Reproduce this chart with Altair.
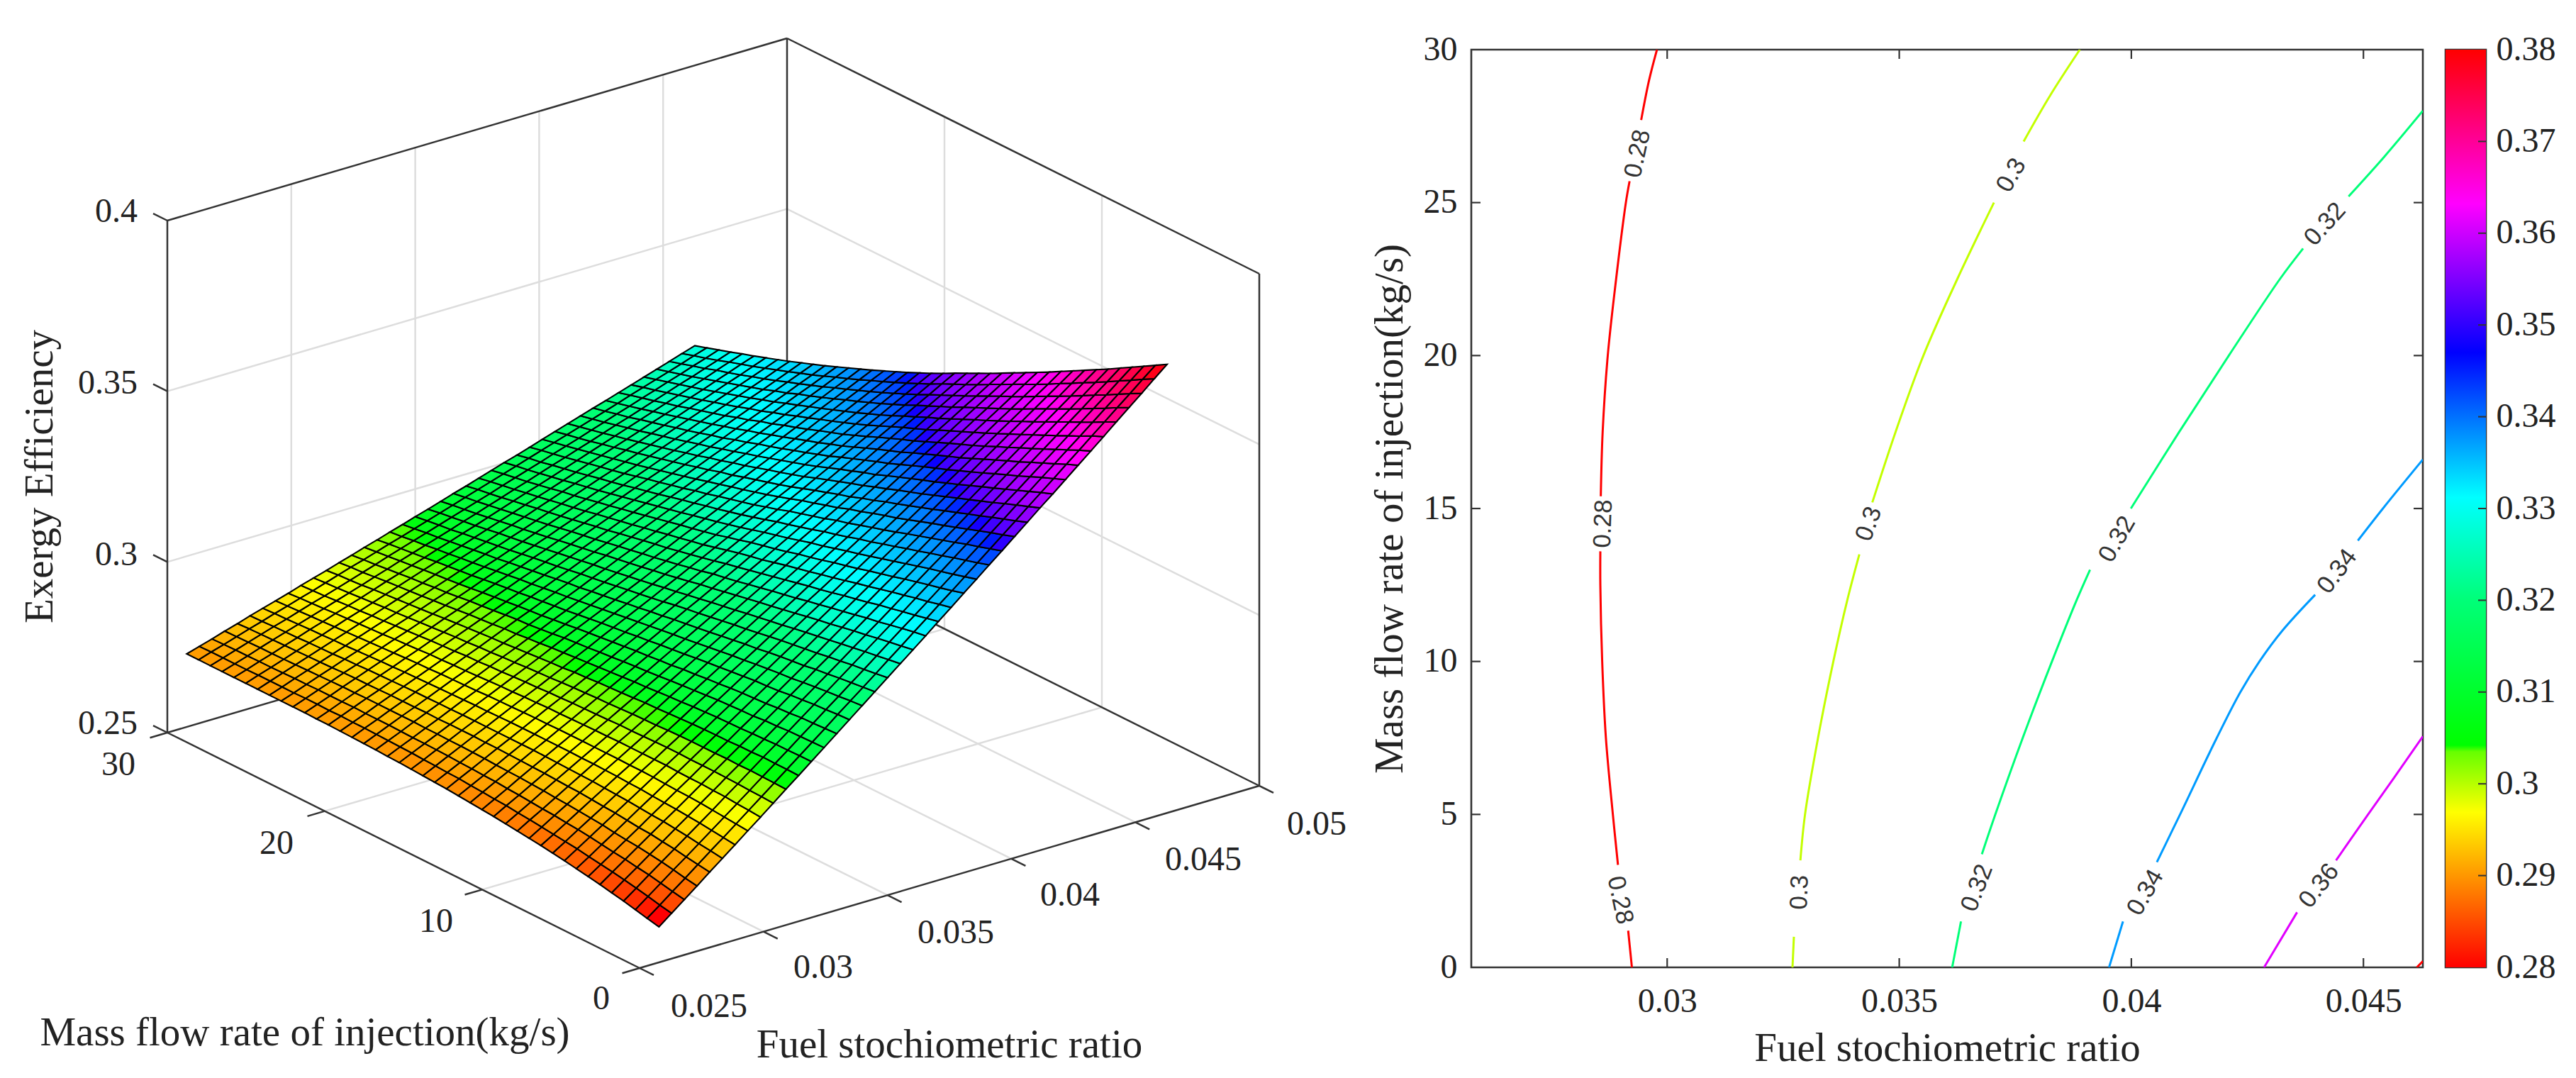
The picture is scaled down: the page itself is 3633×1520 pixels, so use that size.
import altair as alt

# --- axes ---
x3d_ticks = [0.025, 0.03, 0.035, 0.04, 0.045, 0.05]
x3d_labels = ["0.025", "0.03", "0.035", "0.04", "0.045", "0.05"]
y3d_ticks = [0, 10, 20, 30]
z3d_ticks = [0.25, 0.3, 0.35, 0.4]
surface_x_min, surface_x_max = 0.02578, 0.04628
surface_y_max = 30.0

# surface heights x 1e-4: one list per mass-flow row (y = 0 ... 30), left to right in ratio.
# Estimates: anchored on the contour crossings and surface corners in the picture, smooth between them.
surface_rows = [
    [2604,2633,2662,2691,2721,2750,2779,2809,2838,2868,2898,2927,2957,2987,3017,3047,3077,3107,3137,3167,3197,3227,3258,3288,3319,3349,3380,3410,3441,3472,3503,3533,3564,3595,3626,3657,3689,3720,3751,3783,3814],
    [2612,2640,2669,2697,2726,2755,2783,2812,2841,2870,2899,2928,2957,2986,3015,3045,3074,3103,3132,3162,3191,3221,3250,3280,3309,3339,3369,3399,3429,3459,3490,3520,3550,3581,3611,3642,3672,3703,3733,3764,3794],
    [2620,2648,2676,2704,2731,2759,2787,2815,2843,2871,2900,2928,2956,2985,3013,3042,3070,3099,3127,3156,3185,3214,3242,3271,3300,3329,3359,3388,3418,3447,3477,3506,3536,3565,3595,3624,3654,3684,3714,3744,3774],
    [2628,2655,2683,2710,2737,2764,2791,2818,2846,2873,2901,2929,2956,2984,3012,3040,3067,3095,3123,3151,3179,3207,3235,3264,3292,3320,3349,3378,3406,3435,3464,3492,3521,3550,3579,3608,3637,3666,3695,3725,3754],
    [2635,2662,2688,2715,2741,2768,2794,2821,2847,2874,2900,2927,2954,2981,3008,3036,3063,3090,3117,3145,3172,3199,3227,3255,3283,3311,3338,3366,3394,3422,3450,3478,3506,3535,3563,3591,3620,3648,3677,3705,3734],
    [2642,2668,2694,2720,2746,2772,2797,2823,2849,2875,2901,2927,2953,2980,3006,3033,3059,3086,3112,3139,3166,3193,3220,3247,3274,3301,3328,3355,3382,3410,3437,3464,3492,3519,3547,3575,3603,3630,3658,3686,3714],
    [2648,2673,2698,2723,2748,2774,2799,2824,2849,2875,2900,2925,2951,2976,3002,3028,3054,3080,3106,3133,3159,3185,3211,3238,3264,3291,3317,3344,3370,3397,3424,3451,3478,3505,3532,3559,3586,3613,3640,3668,3695],
    [2654,2678,2703,2727,2752,2777,2801,2826,2850,2875,2900,2925,2950,2975,3000,3025,3051,3076,3101,3127,3152,3178,3203,3229,3255,3281,3307,3333,3359,3385,3411,3437,3463,3490,3516,3543,3569,3596,3622,3649,3676],
    [2660,2684,2708,2732,2756,2780,2804,2828,2852,2876,2900,2924,2949,2973,2998,3023,3047,3072,3096,3121,3146,3171,3196,3221,3246,3271,3296,3322,3347,3372,3398,3423,3449,3475,3501,3527,3553,3579,3605,3631,3657],
    [2665,2688,2712,2735,2758,2782,2805,2829,2852,2876,2899,2923,2947,2971,2995,3019,3043,3067,3091,3115,3139,3163,3187,3212,3236,3261,3286,3310,3335,3360,3385,3410,3435,3460,3485,3511,3536,3561,3587,3612,3638],
    [2670,2692,2715,2738,2761,2784,2807,2829,2852,2875,2898,2921,2945,2968,2991,3015,3038,3061,3085,3108,3132,3156,3179,3203,3227,3251,3275,3299,3323,3348,3372,3396,3421,3445,3470,3495,3520,3544,3569,3594,3619],
    [2674,2696,2719,2741,2764,2786,2808,2830,2852,2874,2896,2919,2942,2965,2988,3011,3034,3057,3079,3102,3125,3148,3172,3195,3219,3242,3266,3289,3313,3336,3360,3384,3408,3432,3456,3480,3504,3528,3552,3577,3601],
    [2678,2700,2721,2743,2765,2787,2809,2830,2852,2873,2895,2917,2940,2962,2984,3007,3029,3051,3073,3096,3118,3141,3164,3186,3209,3232,3255,3278,3302,3325,3348,3371,3395,3418,3442,3465,3489,3512,3536,3560,3583],
    [2682,2703,2724,2746,2767,2788,2809,2830,2851,2873,2894,2916,2937,2959,2981,3003,3024,3046,3068,3090,3112,3134,3156,3178,3200,3222,3245,3267,3290,3312,3335,3358,3381,3404,3427,3450,3473,3496,3519,3542,3565],
    [2686,2707,2727,2748,2769,2789,2810,2830,2851,2871,2892,2913,2934,2955,2976,2998,3019,3040,3062,3083,3105,3126,3148,3170,3192,3214,3236,3258,3280,3301,3323,3345,3367,3390,3412,3435,3457,3480,3502,3525,3547],
    [2689,2709,2729,2750,2770,2790,2810,2830,2850,2870,2890,2911,2932,2952,2973,2994,3014,3035,3056,3077,3098,3119,3140,3161,3182,3204,3225,3246,3267,3288,3310,3331,3353,3375,3397,3419,3441,3463,3485,3507,3529],
    [2692,2712,2732,2751,2771,2791,2810,2830,2849,2869,2889,2909,2929,2949,2969,2990,3010,3030,3050,3071,3091,3111,3132,3152,3173,3194,3215,3236,3257,3278,3299,3320,3341,3362,3384,3405,3427,3448,3469,3490,3512],
    [2695,2714,2733,2752,2772,2791,2810,2829,2848,2868,2887,2907,2926,2946,2966,2985,3005,3025,3045,3064,3084,3104,3124,3145,3165,3185,3205,3226,3246,3266,3287,3307,3328,3349,3370,3391,3411,3432,3453,3474,3495],
    [2698,2717,2735,2754,2773,2791,2810,2829,2848,2866,2885,2904,2923,2942,2962,2981,3000,3019,3039,3058,3078,3098,3117,3137,3157,3176,3196,3216,3236,3255,3275,3295,3315,3335,3356,3376,3396,3417,3437,3458,3478],
    [2700,2718,2736,2755,2773,2791,2810,2828,2846,2865,2883,2902,2920,2939,2958,2976,2995,3014,3032,3051,3070,3089,3108,3128,3147,3166,3185,3204,3224,3243,3263,3282,3302,3321,3341,3361,3380,3400,3420,3440,3460],
    [2702,2720,2738,2756,2774,2791,2809,2827,2845,2862,2880,2898,2917,2935,2954,2972,2990,3008,3026,3045,3063,3082,3100,3119,3138,3156,3175,3194,3213,3231,3250,3269,3288,3307,3327,3346,3365,3385,3404,3424,3443],
    [2704,2721,2739,2756,2774,2791,2808,2826,2843,2861,2878,2896,2914,2932,2950,2968,2985,3003,3020,3038,3056,3074,3092,3110,3128,3147,3165,3183,3202,3220,3239,3257,3276,3295,3313,3332,3351,3370,3389,3408,3427],
    [2706,2723,2740,2757,2774,2791,2808,2825,2842,2859,2876,2893,2911,2929,2946,2963,2980,2997,3015,3032,3050,3067,3085,3103,3120,3138,3156,3174,3192,3210,3228,3246,3264,3282,3301,3319,3337,3356,3374,3393,3411],
    [2707,2724,2740,2757,2773,2790,2807,2823,2840,2856,2873,2890,2907,2924,2941,2958,2975,2992,3009,3026,3043,3060,3077,3095,3112,3130,3147,3165,3182,3200,3218,3235,3253,3271,3289,3306,3324,3342,3360,3378,3396],
    [2709,2725,2741,2758,2774,2790,2806,2822,2838,2855,2871,2887,2904,2920,2937,2953,2970,2987,3003,3020,3037,3054,3071,3088,3105,3122,3139,3156,3173,3190,3207,3224,3241,3259,3276,3294,3311,3329,3346,3364,3381],
    [2710,2726,2742,2758,2773,2789,2805,2821,2836,2852,2868,2884,2900,2916,2932,2949,2965,2981,2998,3014,3031,3047,3064,3080,3097,3113,3130,3146,3163,3179,3196,3213,3230,3247,3264,3281,3298,3315,3332,3349,3366],
    [2711,2727,2742,2758,2773,2789,2804,2820,2835,2851,2866,2882,2898,2914,2929,2945,2961,2977,2993,3009,3025,3041,3057,3073,3089,3105,3122,3138,3154,3171,3187,3203,3220,3236,3253,3269,3286,3302,3319,3335,3352],
    [2712,2727,2742,2758,2773,2788,2803,2818,2833,2848,2863,2879,2894,2910,2925,2941,2956,2972,2987,3003,3018,3034,3050,3065,3081,3097,3113,3128,3144,3160,3176,3192,3208,3224,3240,3256,3273,3289,3305,3322,3338],
    [2713,2728,2743,2758,2772,2787,2802,2817,2832,2846,2861,2876,2891,2906,2921,2936,2951,2966,2981,2997,3012,3027,3042,3058,3073,3089,3104,3120,3135,3151,3167,3182,3198,3214,3230,3245,3261,3277,3292,3308,3324],
    [2713,2727,2742,2757,2771,2786,2800,2815,2829,2844,2858,2873,2888,2902,2917,2932,2947,2961,2976,2991,3006,3021,3036,3051,3066,3081,3096,3111,3126,3141,3156,3171,3186,3202,3217,3232,3248,3263,3279,3294,3310],
    [2714,2728,2742,2757,2771,2785,2799,2813,2827,2841,2855,2870,2884,2899,2913,2928,2942,2956,2971,2985,3000,3015,3029,3044,3058,3073,3088,3103,3117,3132,3147,3162,3177,3192,3207,3222,3237,3252,3267,3282,3297],
    [2714,2728,2742,2756,2770,2783,2797,2811,2825,2838,2852,2866,2880,2894,2908,2923,2937,2951,2965,2979,2993,3008,3022,3036,3051,3065,3079,3094,3108,3123,3137,3152,3166,3181,3195,3210,3225,3239,3254,3269,3284],
    [2714,2727,2741,2755,2768,2782,2795,2809,2822,2836,2849,2863,2877,2890,2904,2918,2932,2945,2959,2973,2987,3001,3015,3029,3043,3057,3071,3085,3099,3114,3128,3142,3156,3171,3185,3199,3214,3228,3242,3257,3271],
    [2714,2727,2741,2754,2767,2780,2793,2807,2820,2833,2846,2860,2873,2887,2900,2914,2927,2941,2954,2968,2981,2995,3009,3023,3036,3050,3064,3077,3091,3105,3119,3133,3147,3161,3175,3189,3203,3217,3231,3245,3259],
    [2714,2727,2740,2753,2766,2779,2792,2805,2818,2831,2844,2857,2870,2883,2897,2910,2923,2936,2949,2963,2976,2989,3003,3016,3030,3043,3056,3070,3083,3097,3110,3124,3137,3151,3165,3178,3192,3206,3219,3233,3247],
    [2714,2727,2739,2752,2765,2778,2790,2803,2816,2828,2841,2854,2867,2880,2893,2906,2918,2931,2944,2957,2970,2983,2996,3009,3022,3035,3048,3062,3075,3088,3101,3114,3128,3141,3154,3168,3181,3195,3208,3222,3235],
    [2714,2726,2739,2751,2764,2776,2789,2801,2814,2826,2838,2851,2864,2876,2889,2901,2914,2926,2939,2951,2964,2977,2990,3003,3015,3028,3041,3054,3067,3080,3093,3106,3119,3132,3145,3158,3171,3184,3198,3211,3224],
    [2714,2726,2738,2751,2763,2775,2787,2799,2811,2823,2835,2847,2860,2872,2885,2897,2909,2921,2933,2946,2958,2971,2983,2996,3008,3021,3034,3046,3059,3071,3084,3097,3109,3122,3135,3148,3161,3173,3186,3199,3212],
    [2714,2726,2738,2750,2762,2774,2785,2797,2809,2820,2832,2844,2856,2868,2881,2893,2905,2917,2929,2941,2953,2965,2977,2990,3002,3014,3026,3039,3051,3063,3076,3088,3101,3113,3126,3138,3151,3163,3176,3188,3201],
    [2714,2726,2737,2749,2761,2772,2784,2795,2807,2818,2830,2842,2854,2865,2877,2889,2900,2912,2924,2936,2948,2960,2972,2984,2996,3008,3020,3032,3044,3056,3068,3080,3092,3104,3117,3129,3141,3153,3165,3178,3190],
    [2714,2725,2736,2748,2759,2771,2782,2793,2804,2816,2827,2838,2850,2861,2873,2884,2896,2907,2919,2930,2942,2954,2965,2977,2989,3001,3012,3024,3036,3048,3060,3072,3084,3095,3107,3119,3131,3143,3155,3167,3179],
]

# contour segments: (ratio, mass flow)
contours = {
    0.28: [
        [(0.02924, 0), (0.02916, 1.2)],
        [(0.02894, 3.35), (0.02883, 5), (0.02868, 7.5), (0.0286, 10), (0.02856, 12.5), (0.02856, 13.6)],
        [(0.02857, 15.4), (0.02861, 17.5), (0.02872, 20), (0.0289, 22.5), (0.02911, 25), (0.02919, 25.7)],
        [(0.02944, 27.7), (0.02961, 29), (0.02978, 30)],
    ],
    0.30: [
        [(0.0327, 0), (0.03273, 1)],
        [(0.03287, 3.5), (0.03297, 5), (0.03325, 7.5), (0.03358, 10), (0.03388, 12), (0.03414, 13.5)],
        [(0.03442, 15.2), (0.03492, 17.5), (0.03552, 20), (0.03625, 22.5), (0.03704, 25)],
        [(0.03768, 27), (0.03825, 28.5), (0.03889, 30)],
    ],
    0.32: [
        [(0.03614, 0), (0.03633, 1.5)],
        [(0.03678, 3.7), (0.03707, 5), (0.03766, 7.5), (0.03829, 10), (0.03882, 12), (0.03911, 13)],
        [(0.03999, 15), (0.04103, 17.5), (0.0421, 20), (0.0432, 22.5), (0.0437, 23.5)],
        [(0.04468, 25.2), (0.04545, 26.5), (0.04628, 28)],
    ],
    0.34: [
        [(0.03952, 0), (0.03982, 1.5)],
        [(0.04055, 3.44), (0.04105, 5), (0.04184, 7.5), (0.04235, 9), (0.04276, 10), (0.04325, 11), (0.04396, 12.18)],
        [(0.04488, 13.95), (0.04542, 15), (0.04628, 16.6)],
    ],
    0.36: [
        [(0.04286, 0), (0.04357, 1.8)],
        [(0.04441, 3.5), (0.0451, 5), (0.04566, 6.2), (0.04628, 7.55)],
    ],
    0.38: [[(0.04615, 0), (0.04628, 0.2)]],
}
contour_labels = [
    ("0.28", 0.02936, 26.6, 282), ("0.28", 0.02862, 14.5, 272), ("0.28", 0.02899, 2.2, 78),
    ("0.3", 0.03741, 25.9, 300), ("0.3", 0.03434, 14.5, 290), ("0.3", 0.03285, 2.45, 272),
    ("0.32", 0.04417, 24.3, 312), ("0.32", 0.03969, 14.0, 300), ("0.32", 0.03667, 2.6, 291),
    ("0.34", 0.04443, 12.95, 307), ("0.34", 0.0403, 2.45, 300),
    ("0.36", 0.04404, 2.67, 308),
]
right_x_ticks = [0.03, 0.035, 0.04, 0.045]
right_y_ticks = [0, 5, 10, 15, 20, 25, 30]
bar_ticks = [0.28, 0.29, 0.30, 0.31, 0.32, 0.33, 0.34, 0.35, 0.36, 0.37, 0.38]

# colormaps: the surface uses the colorbar's colours stretched over its own height range
bar_domain = [0.28, 0.2969, 0.3035, 0.3042, 0.32, 0.3312, 0.347, 0.3632, 0.38]
bar_range = ["#ff0000", "#ffff00", "#66ff00", "#00ff00", "#00ff78", "#00ffff", "#0000ff", "#ff00ff", "#ff0000"]
surface_low, surface_high = 0.2625, 0.38
surface_domain = [surface_low + (d - 0.28) / 0.10 * (surface_high - surface_low) for d in bar_domain]
surface_range = bar_range

SERIF = "Liberation Serif"
INK = "#222222"
EDGE = "#333333"
TICK_SIZE = 48
TITLE_SIZE = 57


# 3D view: orthographic camera, page pixels of the box corners
def cam(x, y, z):
    fx, fy, fz = (x - 0.025) / 0.025, y / 30.0, (z - 0.25) / 0.15
    return [902 + fx * 874 - fy * 666 - 8, 1362 - fx * 257 - fy * 332 - fz * 722 - 67]


def page(px, py):
    return {"lon": px - 8, "lat": py - 67}


def poly_feature(pts, **props):
    return {"type": "Feature", "geometry": {"type": "Polygon", "coordinates": [pts + [pts[0]]]}, "properties": props}


def line_feature(a, b):
    return {"type": "Feature", "geometry": {"type": "LineString", "coordinates": [a, b]}, "properties": {}}


identity = dict(type="identity", scale=1, translate=[0, 0], clipExtent=[[-200, -200], [3000, 3000]])

nrow, ncol = len(surface_rows), len(surface_rows[0])
node_x = [surface_x_min + (surface_x_max - surface_x_min) * i / (ncol - 1) for i in range(ncol)]
node_y = [surface_y_max * j / (nrow - 1) for j in range(nrow)]
quads = []
for j in range(nrow - 1):
    for i in range(ncol - 1):
        corners = [(i, j), (i + 1, j), (i + 1, j + 1), (i, j + 1)]
        zs = [surface_rows[b][a] / 1e4 for a, b in corners]
        pts = [cam(node_x[a], node_y[b], surface_rows[b][a] / 1e4) for a, b in corners]
        quads.append(poly_feature(pts, z=sum(zs) / 4))

X0, X1, Y1, Z0, Z1 = 0.025, 0.05, 30, 0.25, 0.4
box_edges = [
    ((X0, Y1, Z1), (X1, Y1, Z1)), ((X1, Y1, Z1), (X1, 0, Z1)),
    ((X0, Y1, Z0), (X0, Y1, Z1)), ((X1, Y1, Z0), (X1, Y1, Z1)), ((X1, 0, Z0), (X1, 0, Z1)),
    ((X0, Y1, Z0), (X0, 0, Z0)), ((X0, 0, Z0), (X1, 0, Z0)),
    ((X0, Y1, Z0), (X1, Y1, Z0)), ((X1, Y1, Z0), (X1, 0, Z0)),
]
box = [line_feature(cam(*a), cam(*b)) for a, b in box_edges]
ticks3d = []
for x in x3d_ticks:
    ticks3d.append(line_feature(cam(x, 0, Z0), cam(x, -0.9, Z0)))
for y in y3d_ticks:
    ticks3d.append(line_feature(cam(X0, y, Z0), cam(X0 - 0.0007, y, Z0)))
for z in z3d_ticks:
    ticks3d.append(line_feature(cam(X0, Y1, z), cam(X0, Y1 + 0.9, z)))
grid3d = []
for x in x3d_ticks[1:-1]:
    grid3d.append(line_feature(cam(x, Y1, Z0), cam(x, Y1, Z1)))
    grid3d.append(line_feature(cam(x, 0, Z0), cam(x, Y1, Z0)))
for y in y3d_ticks[1:-1]:
    grid3d.append(line_feature(cam(X1, y, Z0), cam(X1, y, Z1)))
    grid3d.append(line_feature(cam(X0, y, Z0), cam(X1, y, Z0)))
for z in z3d_ticks[1:-1]:
    grid3d.append(line_feature(cam(X0, Y1, z), cam(X1, Y1, z)))
    grid3d.append(line_feature(cam(X1, Y1, z), cam(X1, 0, z)))

text3d = [
    dict(t="0.4", a=0, align="right", **page(194, 296)),
    dict(t="0.35", a=0, align="right", **page(194, 538)),
    dict(t="0.3", a=0, align="right", **page(194, 780)),
    dict(t="0.25", a=0, align="right", **page(194, 1018)),
    dict(t="30", a=0, align="center", **page(167, 1076)),
    dict(t="20", a=0, align="center", **page(390, 1187)),
    dict(t="10", a=0, align="center", **page(615, 1297)),
    dict(t="0", a=0, align="center", **page(848, 1406)),
]
for lab, pos in zip(x3d_labels, [(1000, 1417), (1161, 1362), (1348, 1313), (1509, 1260), (1697, 1210), (1857, 1160)]):
    text3d.append(dict(t=lab, a=0, align="center", **page(*pos)))
title3d = [
    dict(t="Exergy Efficiency", a=270, align="center", **page(57, 669)),
    dict(t="Mass flow rate of injection(kg/s)", a=0, align="center", **page(430, 1454)),
    dict(t="Fuel stochiometric ratio", a=0, align="center", **page(1339, 1471)),
]

PW, PH = 2035, 1445


def geo_lines(feats, **kw):
    return alt.Chart(alt.Data(values=feats)).mark_geoshape(filled=False, clip=False, **kw).project(**identity)


surface = alt.Chart(alt.Data(values=quads)).mark_geoshape(stroke="#000000", strokeWidth=2.1, clip=False).encode(
    color=alt.Color("properties.z:Q", scale=alt.Scale(domain=surface_domain, range=surface_range), legend=None)
).project(**identity)


def geo_text_aligned(rows, size):
    out = []
    for al in sorted({r["align"] for r in rows}):
        sub = [r for r in rows if r["align"] == al]
        out.append(alt.Chart(alt.Data(values=sub)).mark_text(font=SERIF, fontSize=size, color=INK, baseline="middle", align=al).encode(
            longitude="lon:Q", latitude="lat:Q", text="t:N", angle=alt.Angle("a:Q", scale=None),
        ).project(**identity))
    return out


left = alt.layer(
    geo_lines(grid3d, stroke="#dddddd", strokeWidth=2.5),
    geo_lines(box, stroke=EDGE, strokeWidth=2.5),
    geo_lines(ticks3d, stroke=EDGE, strokeWidth=2.5),
    surface,
    *geo_text_aligned(text3d, TICK_SIZE),
    *geo_text_aligned(title3d, TITLE_SIZE),
).properties(width=PW, height=PH, view=alt.ViewBackground(stroke=None))

# right panel
RW, RH = 1342, 1294
TICK_LEN = 13
line_rows = []
for level, segs in contours.items():
    for s, seg in enumerate(segs):
        for k, (cx, cy) in enumerate(seg):
            line_rows.append(dict(level=level, seg=f"{level}-{s}", k=k, x=cx, y=cy))
label_rows = [dict(t=t, x=x, y=y, a=a) for t, x, y, a in contour_labels]
x_scale = alt.Scale(domain=[surface_x_min, surface_x_max], nice=False, zero=False)
y_scale = alt.Scale(domain=[0, 30], nice=False, zero=False)
bar_scale = alt.Scale(domain=bar_domain, range=bar_range)

base_lines = alt.Chart(alt.Data(values=line_rows)).mark_line(strokeWidth=3, clip=True, interpolate="catmull-rom").encode(
    x=alt.X("x:Q", scale=x_scale, axis=alt.Axis(
        title="Fuel stochiometric ratio", values=right_x_ticks, format=".3~f", tickSize=0, domain=False, grid=False,
        labelPadding=24, titlePadding=14, labelFont=SERIF, titleFont=SERIF, labelFontSize=TICK_SIZE, titleFontSize=TITLE_SIZE,
        labelColor=INK, titleColor=INK, titleFontWeight="normal")),
    y=alt.Y("y:Q", scale=y_scale, axis=alt.Axis(
        title="Mass flow rate of injection(kg/s)", values=right_y_ticks, tickSize=0, domain=False, grid=False,
        labelPadding=20, titlePadding=18, labelFont=SERIF, titleFont=SERIF, labelFontSize=TICK_SIZE, titleFontSize=TITLE_SIZE,
        labelColor=INK, titleColor=INK, titleFontWeight="normal")),
    color=alt.Color("level:Q", scale=bar_scale, legend=None),
    detail="seg:N",
    order="k:Q",
)
labels_c = alt.Chart(alt.Data(values=label_rows)).mark_text(font="Liberation Sans", fontSize=35, color="#333333").encode(
    x=alt.X("x:Q", scale=x_scale), y=alt.Y("y:Q", scale=y_scale), text="t:N", angle=alt.Angle("a:Q", scale=None),
)
xt = alt.Data(values=[dict(v=v) for v in right_x_ticks])
yt = alt.Data(values=[dict(v=v) for v in right_y_ticks[1:-1]])
tick_layers = [
    alt.Chart(xt).mark_rule(color=EDGE, strokeWidth=2.2).encode(x=alt.X("v:Q", scale=x_scale), y=alt.value(RH), y2=alt.value(RH - TICK_LEN)),
    alt.Chart(xt).mark_rule(color=EDGE, strokeWidth=2.2).encode(x=alt.X("v:Q", scale=x_scale), y=alt.value(0), y2=alt.value(TICK_LEN)),
    alt.Chart(yt).mark_rule(color=EDGE, strokeWidth=2.2).encode(y=alt.Y("v:Q", scale=y_scale), x=alt.value(0), x2=alt.value(TICK_LEN)),
    alt.Chart(yt).mark_rule(color=EDGE, strokeWidth=2.2).encode(y=alt.Y("v:Q", scale=y_scale), x=alt.value(RW), x2=alt.value(RW - TICK_LEN)),
]
frame = alt.ViewBackground(stroke=EDGE, strokeWidth=2.6)
right = alt.layer(base_lines, labels_c, *tick_layers).properties(width=RW, height=RH, view=frame)

# colorbar
BW = 57
lo, hi = bar_ticks[0], bar_ticks[-1]
stops = [alt.GradientStop(offset=(d - lo) / (hi - lo), color=c) for d, c in zip(bar_domain, bar_range)]
bar_scale_y = alt.Scale(domain=[lo, hi], nice=False, zero=False)
bar = alt.Chart(alt.Data(values=[dict(lo=lo, hi=hi)])).mark_rect(
    color=alt.Gradient(gradient="linear", x1=0, x2=0, y1=1, y2=0, stops=stops)
).encode(
    y=alt.Y("lo:Q", scale=bar_scale_y, axis=alt.Axis(
        orient="right", title=None, values=bar_ticks, format="~g", tickSize=0, domain=False, grid=False, labelPadding=14,
        labelFont=SERIF, labelFontSize=TICK_SIZE, labelColor=INK)),
    y2="hi:Q", x=alt.value(0), x2=alt.value(BW),
)
bar_ticks_rule = alt.Chart(alt.Data(values=[dict(v=v) for v in bar_ticks[1:-1]])).mark_rule(color=EDGE, strokeWidth=2).encode(
    y=alt.Y("v:Q", scale=bar_scale_y), x=alt.value(BW), x2=alt.value(BW - 11),
)
cbar = alt.layer(bar, bar_ticks_rule).properties(width=BW, height=RH, view=frame)

chart = alt.hconcat(left, right, cbar, spacing=32, bounds="flush").resolve_scale(color="independent").properties(
    padding={"left": 0, "top": 36, "right": 0, "bottom": 0}
)
chart.save("out.html", embed_options={"renderer": "svg", "actions": False})
